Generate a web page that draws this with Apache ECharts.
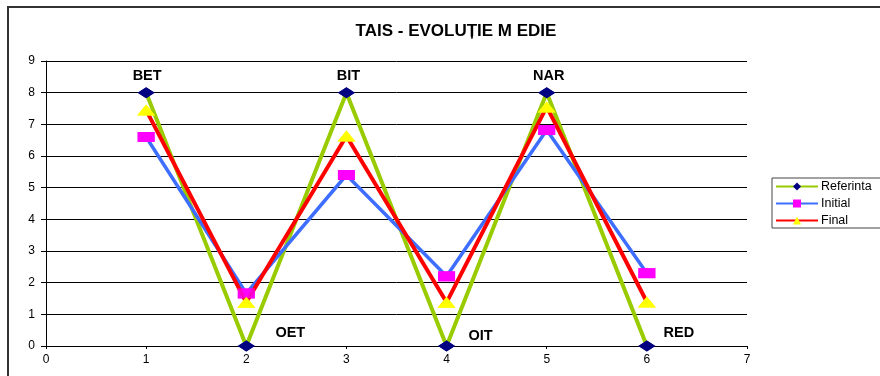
<!DOCTYPE html>
<html><head><meta charset="utf-8">
<script src="https://cdn.jsdelivr.net/npm/echarts@6/dist/echarts.min.js"></script>
<style>html,body{margin:0;padding:0;background:#fff}#c{width:880px;height:376px}</style>
</head><body><div id="c"></div>
<script>
var xValues = [1, 2, 3, 4, 5, 6];
var pointNames = ['BET', 'OET', 'BIT', 'OIT', 'NAR', 'RED'];
var referinta = [8, 0, 8, 0, 8, 0];
var initial = [6.6, 1.66, 5.4, 2.2, 6.82, 2.3];
var finalV = [7.45, 1.38, 6.63, 1.38, 7.55, 1.39];
var yTicks = [0, 1, 2, 3, 4, 5, 6, 7, 8, 9];
var xTicks = [0, 1, 2, 3, 4, 5, 6, 7];

var FONT = '"Liberation Sans", Arial, sans-serif';
var labelOffsets = [[1, -17], [44, -13], [2, -17], [34, -10], [2, -17], [32, -13]];

function pairs(vals) { return xValues.map(function (x, i) { return [x, vals[i]]; }); }

var refData = xValues.map(function (x, i) {
  return {
    value: [x, referinta[i]], name: pointNames[i],
    label: { show: true, position: 'inside', offset: labelOffsets[i], formatter: '{b}',
      fontFamily: FONT, fontWeight: 'bold', fontSize: 14.5, color: '#000' }
  };
});

var chart = echarts.init(document.getElementById('c'), null, { renderer: 'canvas' });
chart.setOption({
  animation: false,
  backgroundColor: '#fff',
  title: {
    text: 'TAIS - EVOLUȚIE M EDIE', left: 451, top: 18, textAlign: 'center',
    textStyle: { fontFamily: FONT, fontWeight: 'bold', fontSize: 17, color: '#000' }
  },
  graphic: [{ type: 'rect', shape: { x: 8, y: 7, width: 900, height: 400 },
    style: { fill: 'none', stroke: '#333', lineWidth: 2 }, z: 0 }],
  grid: { left: 46, right: 133, top: 61, bottom: 30 },
  legend: {
    orient: 'vertical', left: 772, top: 178, itemWidth: 42, itemHeight: 10, itemGap: 4,
    padding: [2, 30, 1, 3], borderColor: '#444', borderWidth: 1,
    data: ['Referinta', 'Initial', 'Final'],
    textStyle: { fontFamily: FONT, fontSize: 12.5, color: '#000', padding: [0, 0, 0, -2] }
  },
  xAxis: {
    type: 'value', min: 0, max: 7, interval: 1,
    axisLine: { show: true, lineStyle: { color: '#000', width: 1 } },
    axisTick: { show: true, length: 3, lineStyle: { color: '#000' } },
    axisLabel: { fontFamily: FONT, fontSize: 12, color: '#000', margin: 8,
      formatter: function (v) { return xTicks.indexOf(v) >= 0 ? String(v) : ''; } },
    splitLine: { show: false }
  },
  yAxis: {
    type: 'value', min: 0, max: 9, interval: 1,
    axisLine: { show: true, lineStyle: { color: '#000', width: 1 } },
    axisTick: { show: true, length: 5, lineStyle: { color: '#000' } },
    axisLabel: { fontFamily: FONT, fontSize: 12, color: '#000', margin: 11,
      formatter: function (v) { return yTicks.indexOf(v) >= 0 ? String(v) : ''; } },
    splitLine: { show: true, lineStyle: { color: '#000', width: 1 } }
  },
  series: [
    { name: 'Referinta', type: 'line', data: refData, z: 2,
      lineStyle: { color: '#99CC00', width: 4 }, itemStyle: { color: '#000080' },
      symbol: 'diamond', symbolSize: [17, 11], showAllSymbol: true },
    { name: 'Initial', type: 'line', data: pairs(initial), z: 3,
      lineStyle: { color: '#3D6EFF', width: 3.5 }, itemStyle: { color: '#FF00FF' },
      symbol: 'rect', symbolSize: [17, 10], showAllSymbol: true },
    { name: 'Final', type: 'line', data: pairs(finalV), z: 4,
      lineStyle: { color: '#FF0000', width: 4 }, itemStyle: { color: '#FFFF00' },
      symbol: 'triangle', symbolSize: [18, 11], showAllSymbol: true },
    { name: 'm1', type: 'scatter', data: pairs(referinta), z: 5, silent: true,
      symbol: 'diamond', symbolSize: [17, 11], itemStyle: { color: '#000080' } },
    { name: 'm2', type: 'scatter', data: pairs(initial), z: 5, silent: true,
      symbol: 'rect', symbolSize: [17, 10], itemStyle: { color: '#FF00FF' } },
    { name: 'm3', type: 'scatter', data: pairs(finalV), z: 5, silent: true,
      symbol: 'triangle', symbolSize: [18, 11], itemStyle: { color: '#FFFF00' } }
  ]
});
</script></body></html>
